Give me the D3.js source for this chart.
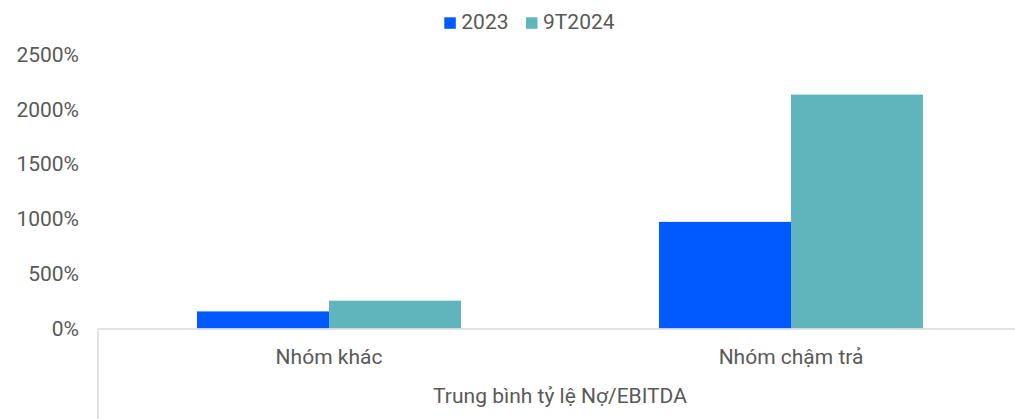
<!DOCTYPE html>
<html>
<head>
<meta charset="utf-8">
<script src="https://cdn.jsdelivr.net/npm/d3@7"></script>
<style>
  html, body { margin: 0; padding: 0; background: #fff; }
  svg { display: block; font-family: Roboto, "Noto Sans", sans-serif; }
</style>
</head>
<body>
<svg id="chart" width="1015" height="419"></svg>
<script>
// Average Debt/EBITDA ratio by group (%)
const categories = ["Nhóm khác", "Nhóm chậm trả"];
const seriesNames = ["2023", "9T2024"];
const values2023 = [156, 973];
const values9T2024 = [254, 2134];
const yTicks = [0, 500, 1000, 1500, 2000, 2500];
const axisTitle = "Trung bình tỷ lệ Nợ/EBITDA";

const colors = ["#005AFF", "#5FB5BB"];
const textColor = "#595959";
const fontSize = 21;

const svg = d3.select("#chart");
const plotLeft = 98, plotRight = 1022, plotTop = 54.5, plotBottom = 328.5;

const x = d3.scaleBand().domain(categories).range([plotLeft, plotRight]).paddingInner(0).paddingOuter(0);
const xInner = d3.scaleBand().domain(seriesNames).range([0, x.bandwidth()]).paddingOuter(0.75).paddingInner(0);
const y = d3.scaleLinear().domain([0, 2500]).range([plotBottom, plotTop]);

const rows = categories.map((c, i) => ({ cat: c, vals: [values2023[i], values9T2024[i]] }));

// Bars
const groups = svg.append("g").selectAll("g").data(rows).join("g")
  .attr("transform", d => `translate(${x(d.cat)},0)`);
groups.selectAll("rect").data(d => d.vals.map((v, j) => ({ s: seriesNames[j], v, j })))
  .join("rect")
  .attr("x", d => xInner(d.s))
  .attr("width", xInner.bandwidth())
  .attr("y", d => y(d.v))
  .attr("height", d => y(0) - y(d.v))
  .attr("fill", d => colors[d.j]);

// Y axis labels (no axis line)
const yAxis = d3.axisLeft(y).tickValues(yTicks).tickFormat(d => d + "%").tickSize(0).tickPadding(0);
const yg = svg.append("g").attr("transform", "translate(79,0)").call(yAxis);
yg.select(".domain").remove();
yg.selectAll("text").attr("fill", textColor).attr("font-size", fontSize).attr("font-family", "Roboto, sans-serif");

// Category axis with baseline and left divider
const xAxis = d3.axisBottom(x).tickSize(0).tickPadding(0);
const xg = svg.append("g").attr("transform", `translate(0,${plotBottom})`).call(xAxis);
xg.select(".domain").attr("stroke", "#D9D9D9").attr("stroke-width", 1.5);
xg.selectAll("text").attr("fill", textColor).attr("font-size", fontSize)
  .attr("font-family", "Roboto, sans-serif").attr("dy", null).attr("y", 35.5);

svg.append("line")
  .attr("x1", plotLeft).attr("x2", plotLeft)
  .attr("y1", plotBottom).attr("y2", 419)
  .attr("stroke", "#D9D9D9").attr("stroke-width", 1.5);

svg.append("text")
  .attr("x", (plotLeft + plotRight) / 2).attr("y", 403)
  .attr("text-anchor", "middle").attr("fill", textColor)
  .attr("font-size", fontSize).text(axisTitle);

// Legend
const legend = svg.append("g");
const legendItems = [{ name: seriesNames[0], x: 444.3 }, { name: seriesNames[1], x: 526 }];
legendItems.forEach((d, i) => {
  legend.append("rect").attr("x", d.x).attr("y", 17.3).attr("width", 11.5).attr("height", 11.5).attr("fill", colors[i]);
  legend.append("text").attr("x", d.x + 17).attr("y", 28.5)
    .attr("fill", textColor).attr("font-size", fontSize).text(d.name);
});
</script>
</body>
</html>
